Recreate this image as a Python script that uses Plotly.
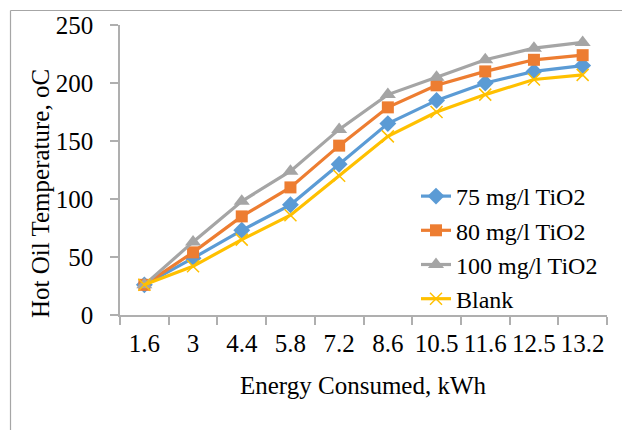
import plotly.graph_objects as go

energy = ["1.6", "3", "4.4", "5.8", "7.2", "8.6", "10.5", "11.6", "12.5", "13.2"]
tio2_75 = [26, 49, 73, 95, 130, 165, 185, 200, 210, 215]
tio2_80 = [26, 54, 85, 110, 146, 179, 198, 210, 220, 224]
tio2_100 = [26, 63, 98, 124, 160, 190, 205, 220, 230, 235]
blank = [26, 42, 65, 86, 120, 154, 175, 190, 203, 207]

W, H = 622, 430
ML, MR, MT, MB = 120, 15, 25, 115
PW, PH = W - ML - MR, H - MT - MB

def px(x):
    return (x - ML) / PW

def py(y):
    return (H - MB - y) / PH

FONT = "Liberation Serif"

fig = go.Figure()
fig.add_trace(go.Scatter(x=energy, y=tio2_75, name="75 mg/l TiO2", mode="lines+markers",
                         line=dict(color="#5B9BD5", width=3.2),
                         marker=dict(symbol="diamond", size=13, color="#5B9BD5")))
fig.add_trace(go.Scatter(x=energy, y=tio2_80, name="80 mg/l TiO2", mode="lines+markers",
                         line=dict(color="#ED7D31", width=3.2),
                         marker=dict(symbol="square", size=12, color="#ED7D31")))
fig.add_trace(go.Scatter(x=energy, y=tio2_100, name="100 mg/l TiO2", mode="lines+markers",
                         line=dict(color="#A5A5A5", width=3.2),
                         marker=dict(symbol="triangle-up", size=14, color="#A5A5A5")))
fig.add_trace(go.Scatter(x=energy, y=blank, name="Blank", mode="lines+markers",
                         line=dict(color="#FFC000", width=3.2),
                         marker=dict(symbol="x-thin", size=12, color="#FFC000",
                                     line=dict(color="#FFC000", width=1.5))))

fig.update_layout(
    width=W, height=H,
    margin=dict(l=ML, r=MR, t=MT, b=MB),
    paper_bgcolor="white", plot_bgcolor="white",
    font=dict(family=FONT, size=25, color="black"),
    showlegend=True,
    legend=dict(x=px(416), y=py(174), xanchor="left", yanchor="top",
                bgcolor="rgba(0,0,0,0)", font=dict(size=24, family=FONT, color="black"),
                tracegroupgap=0),
    xaxis=dict(type="category", range=[-0.5, 9.5], showgrid=False, zeroline=False,
               showline=True, linecolor="#AFAFAF", linewidth=1.5,
               ticks="outside", tickson="boundaries", ticklen=8, tickcolor="#AFAFAF",
               tickwidth=1.5, tickangle=0,
               tickfont=dict(size=25, family=FONT, color="black"), ticklabelstandoff=5),
    yaxis=dict(range=[0, 250], tickvals=[0, 50, 100, 150, 200, 250], showgrid=False,
               zeroline=False, showline=True, linecolor="#AFAFAF", linewidth=1.5,
               ticks="outside", ticklen=8, tickcolor="#AFAFAF", tickwidth=1.5,
               tickfont=dict(size=25, family=FONT, color="black"), ticklabelstandoff=12),
)

fig.add_annotation(text="Energy Consumed, kWh", x=px(363), y=py(385), xref="paper", yref="paper",
                   showarrow=False, font=dict(size=25, family=FONT, color="black"),
                   xanchor="center", yanchor="middle")
fig.add_annotation(text="Hot Oil Temperature, oC", x=px(41), y=py(194), xref="paper", yref="paper",
                   showarrow=False, textangle=-90, font=dict(size=25, family=FONT, color="black"),
                   xanchor="center", yanchor="middle")

# chart area border (left and top edges visible)
fig.add_shape(type="line", xref="paper", yref="paper", x0=px(10.5), x1=px(10.5), y0=py(10.5), y1=py(440),
              line=dict(color="#A6A6A6", width=1.2))
fig.add_shape(type="line", xref="paper", yref="paper", x0=px(10.5), x1=px(640), y0=py(10.5), y1=py(10.5),
              line=dict(color="#A6A6A6", width=1.2))

fig.write_html("out.html")
